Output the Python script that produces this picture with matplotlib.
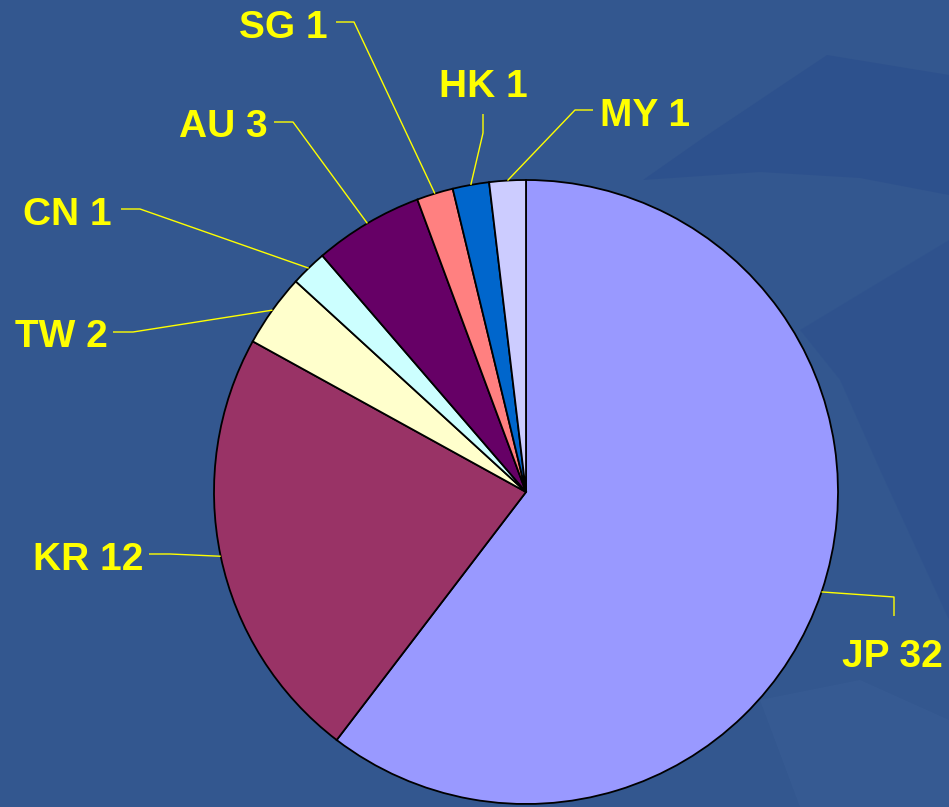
import numpy as np
import matplotlib
matplotlib.use("Agg")
import matplotlib.pyplot as plt
from matplotlib.patches import Polygon

# ---- data ----
categories = ["JP", "KR", "TW", "CN", "AU", "SG", "HK", "MY"]
values = [32, 12, 2, 1, 3, 1, 1, 1]
colors = ["#9999FF", "#993366", "#FFFFCC", "#CCFFFF", "#660066", "#FF8080", "#0066CC", "#CCCCFF"]

# ---- layout (pixel coords of the reference, y down) ----
W, H = 949, 807
CX, CY, R = 526, 492, 312
# label anchor (x, baseline y, ha) and leader elbow points
label_pos = {
    "JP": (842, 667, "left"),
    "KR": (143, 570, "right"),
    "TW": (108, 347, "right"),
    "CN": (112, 225, "right"),
    "AU": (268, 137, "right"),
    "SG": (328, 38, "right"),
    "HK": (483, 97, "center"),
    "MY": (600, 126, "left"),
}
leader_elbows = {
    "JP": [(894, 616), (894, 597)],
    "KR": [(149, 554), (170, 554)],
    "TW": [(113, 332), (133, 332)],
    "CN": [(121, 209), (140, 209)],
    "AU": [(274, 122), (293, 122)],
    "SG": [(336, 22), (354, 22)],
    "HK": [(483, 114), (483, 133)],
    "MY": [(593, 110), (575, 110)],
}

BG = "#33578F"
YEL = "#FFFF00"

def P(x, y):
    return (x, H - y)

fig = plt.figure(figsize=(W / 100, H / 100), dpi=100, facecolor=BG)
ax = fig.add_axes([0, 0, 1, 1])
ax.set_facecolor(BG)

# subtle background swooshes
sw1 = [P(643, 180), P(700, 140), P(827, 55), P(949, 75), P(949, 195), P(860, 178), P(760, 172)]
ax.add_patch(Polygon(sw1, closed=True, facecolor="#2A4D8C", edgecolor="none", alpha=0.6, zorder=0))
sw2 = [P(800, 330), P(949, 240), P(949, 620), P(880, 470), P(840, 380)]
ax.add_patch(Polygon(sw2, closed=True, facecolor="#2C4F8D", edgecolor="none", alpha=0.5, zorder=0))
sw3 = [P(760, 700), P(860, 680), P(949, 720), P(949, 807), P(800, 807)]
ax.add_patch(Polygon(sw3, closed=True, facecolor="#3A5E96", edgecolor="none", alpha=0.5, zorder=0))

wedges, _ = ax.pie(values, colors=colors, startangle=90, counterclock=False,
                   center=P(CX, CY), radius=R,
                   wedgeprops=dict(edgecolor="black", linewidth=1.3))
for w in wedges:
    w.set_zorder(2)

for cat, w in zip(categories, wedges):
    mid = np.deg2rad((w.theta1 + w.theta2) / 2)
    ex = CX + R * np.cos(mid)
    ey = CY - R * np.sin(mid)
    pts = [P(*p) for p in leader_elbows[cat]] + [P(ex, ey)]
    xs, ys = zip(*pts)
    ax.plot(xs, ys, color=YEL, lw=1.0, zorder=3, solid_capstyle="butt")
    lx, ly, ha = label_pos[cat]
    val = values[categories.index(cat)]
    ax.text(*P(lx, ly), f"{cat} {val}", color=YEL, fontsize=28, fontweight="bold",
            family=["Liberation Sans", "DejaVu Sans"], ha=ha, va="baseline", zorder=4)

ax.set_xlim(0, W)
ax.set_ylim(0, H)
ax.set_aspect("auto")
ax.axis("off")

fig.savefig("out.png", dpi=100, facecolor=BG)
